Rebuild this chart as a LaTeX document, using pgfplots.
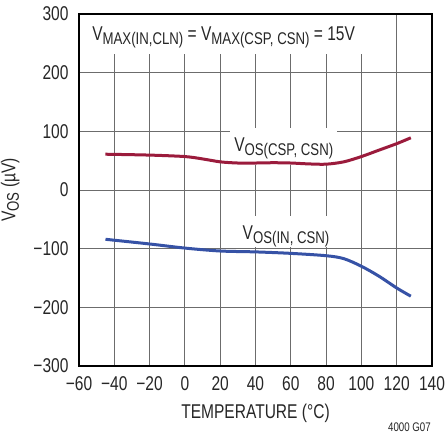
\documentclass[border=0pt]{standalone}
\usepackage{fontspec}
\setmainfont{Liberation Sans}[FakeStretch=0.78]
\usepackage{pgfplots}
\pgfplotsset{compat=1.18}
\definecolor{curvered}{HTML}{9B1B3C}
\definecolor{curveblue}{HTML}{3652A6}
\newcommand{\sub}[1]{\raisebox{-3.3bp}{\fontsize{17}{18}\selectfont #1}}
\begin{document}
\begin{tikzpicture}
\begin{axis}[
    name=ax, at={(0,0)}, anchor=south west,
    scale only axis, width=353bp, height=352bp,
    xmin=-60, xmax=140, ymin=-300, ymax=300,
    xtick={-60,-40,...,140}, ytick={-300,-200,...,300},
    xticklabels={−60,−40,−20,0,20,40,60,80,100,120,140},
    yticklabels={−300,−200,−100,0,100,200,300},
    major tick length=0pt,
    grid=major,
    grid style={gray!85!black, line width=0.8bp},
    axis line style={black, line width=1.3bp},
    tick label style={font=\fontsize{20}{22}\selectfont, black!85},
    xticklabel style={yshift=-7bp},
    yticklabel style={xshift=-7bp},
    xlabel={TEMPERATURE (°C)},
    ylabel={V\sub{OS} (µV)},
    label style={font=\fontsize{20}{24}\selectfont, black!85},
    xlabel style={yshift=-7bp},
    ylabel style={yshift=7bp},
    clip=false,
]
% white boxes behind labels
\node[fill=white, inner sep=0pt, minimum width=286bp, minimum height=39bp, anchor=north west]
    at (rel axis cs:0.004,0.997) {};
\node[anchor=base west, inner sep=0pt, font=\fontsize{20}{24}\selectfont, text=black!85]
    at (axis cs:-52.6,254) {V\sub{MAX(IN,CLN)} = V\sub{MAX(CSP, CSN)} = 15V};
\node[fill=white, inner sep=0pt, minimum width=107bp, minimum height=37bp]
    at (axis cs:56,74) {};
\node[anchor=base, inner sep=0pt, font=\fontsize{20}{24}\selectfont, text=black!85]
    at (axis cs:56,65) {V\sub{OS(CSP, CSN)}};
\node[fill=white, inner sep=0pt, minimum width=102bp, minimum height=31bp]
    at (axis cs:57.3,-70.5) {};
\node[anchor=base, inner sep=0pt, font=\fontsize{20}{24}\selectfont, text=black!85]
    at (axis cs:57.3,-85) {V\sub{OS(IN, CSN)}};

\addplot[curvered, line width=3bp, smooth] coordinates {
    (-45,61) (-20,59.5) (0,57) (10,53) (20,48) (30,46) (40,46) (50,46.5)
    (60,46) (70,44.5) (80,44) (90,48) (100,57) (110,68) (120,79) (128,89)
};
\addplot[curveblue, line width=3bp, smooth] coordinates {
    (-45,-84) (-20,-92) (0,-99) (20,-104) (40,-105.5) (60,-108)
    (80,-112) (90,-117) (100,-130) (110,-147) (120,-167) (128,-181)
};
\end{axis}
\node[anchor=south east, inner sep=0pt, font=\fontsize{12.5}{13}\selectfont, text=black!85]
    at (352bp,-66bp) {4000 G07};
\pgfresetboundingbox
\path (-79bp,-68bp) rectangle (367bp,366bp);
\end{tikzpicture}
\end{document}
